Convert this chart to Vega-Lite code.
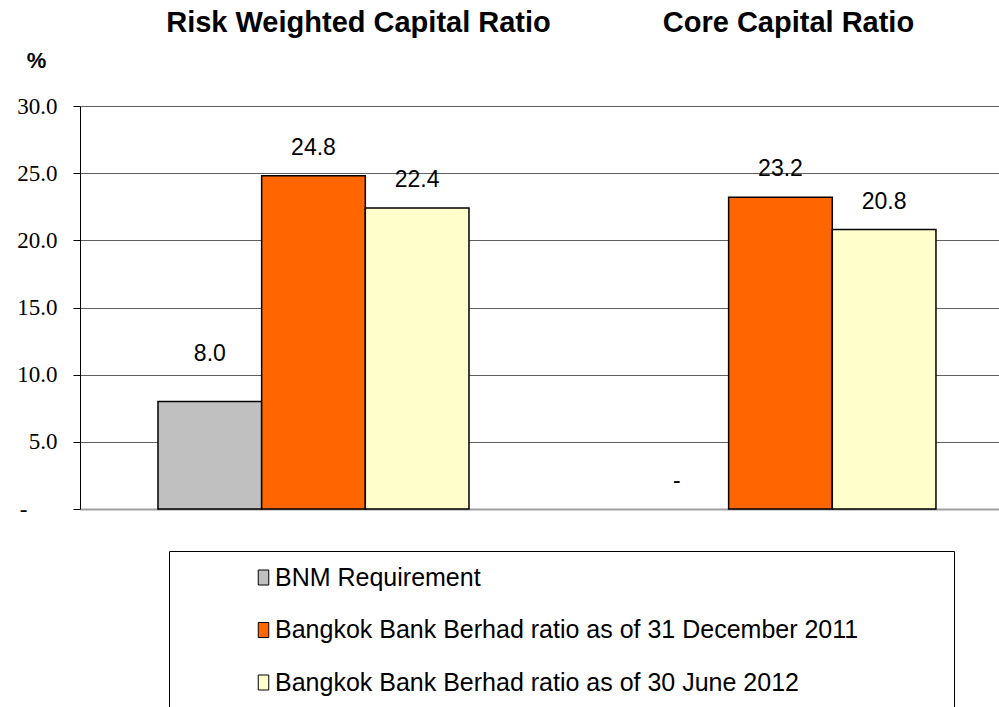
{
  "$schema": "https://vega.github.io/schema/vega-lite/v6.json",
  "width": 919,
  "height": 403,
  "autosize": {"type": "none"},
  "padding": {"left": 80, "top": 106, "right": 0, "bottom": 198},
  "background": "white",
  "config": {"view": {"stroke": null}, "font": "Liberation Sans"},
  "data": {
    "values": [
      {"category": "Risk Weighted Capital Ratio", "series": "BNM Requirement", "value": 8.0},
      {"category": "Risk Weighted Capital Ratio", "series": "Bangkok Bank Berhad ratio as of 31 December 2011", "value": 24.8},
      {"category": "Risk Weighted Capital Ratio", "series": "Bangkok Bank Berhad ratio as of 30 June 2012", "value": 22.4},
      {"category": "Core Capital Ratio", "series": "BNM Requirement", "value": 0},
      {"category": "Core Capital Ratio", "series": "Bangkok Bank Berhad ratio as of 31 December 2011", "value": 23.2},
      {"category": "Core Capital Ratio", "series": "Bangkok Bank Berhad ratio as of 30 June 2012", "value": 20.8}
    ]
  },
  "encoding": {
    "x": {
      "field": "category",
      "type": "nominal",
      "sort": ["Risk Weighted Capital Ratio", "Core Capital Ratio"],
      "scale": {"paddingInner": 0.334, "paddingOuter": 0.151, "align": 0.553},
      "axis": {
        "orient": "top",
        "title": null,
        "domain": false,
        "ticks": false,
        "tickSize": 0,
        "grid": false,
        "labelAngle": 0,
        "labelFont": "Liberation Sans",
        "labelFontWeight": "bold",
        "labelFontSize": 29,
        "labelColor": "black",
        "labelPadding": 75,
        "labelBaseline": "alphabetic",
        "labelLimit": 1000,
        "labelOffset": {"condition": {"test": "datum.value == 'Risk Weighted Capital Ratio'", "value": 45}, "value": 8}
      }
    },
    "xOffset": {
      "field": "series",
      "type": "nominal",
      "sort": ["BNM Requirement", "Bangkok Bank Berhad ratio as of 31 December 2011", "Bangkok Bank Berhad ratio as of 30 June 2012"],
      "scale": {"paddingInner": 0, "paddingOuter": 0}
    },
    "y": {
      "field": "value",
      "type": "quantitative",
      "scale": {"domain": [0, 30], "nice": false},
      "axis": {
        "title": "%",
        "titleAngle": 0,
        "titleFont": "Liberation Sans",
        "titleFontWeight": "bold",
        "titleFontSize": 22,
        "titleColor": "black",
        "titleX": -44,
        "titleY": -46,
        "titleAlign": "center",
        "titleBaseline": "middle",
        "values": [0, 5, 10, 15, 20, 25, 30],
        "labelExpr": "datum.value == 0 ? '-' : format(datum.value, '.1f')",
        "labelFont": "Liberation Serif",
        "labelFontSize": 23,
        "labelColor": "black",
        "labelFlush": false,
        "labelOverlap": false,
        "labelPadding": {"condition": {"test": "datum.value == 0", "value": 46}, "value": 16},
        "tickSize": 7,
        "tickColor": "black",
        "domainColor": "black",
        "domainWidth": 1,
        "grid": true,
        "gridColor": {"condition": {"test": "datum.value == 0", "value": "#a0a0a0"}, "value": "#606060"},
        "gridWidth": {"condition": {"test": "datum.value == 0", "value": 2}, "value": 1}
      }
    }
  },
  "layer": [
    {
      "mark": {"type": "bar", "stroke": "black", "strokeWidth": 1.5},
      "encoding": {
        "color": {
          "field": "series",
          "type": "nominal",
          "scale": {
            "domain": ["BNM Requirement", "Bangkok Bank Berhad ratio as of 31 December 2011", "Bangkok Bank Berhad ratio as of 30 June 2012"],
            "range": ["#C0C0C0", "#FF6600", "#FFFFCC"]
          },
          "legend": {
            "orient": "none",
            "legendX": 89,
            "legendY": 445,
            "title": "\u00a0",
            "titleOrient": "right",
            "titleFontSize": 1,
            "titlePadding": 82,
            "padding": 14,
            "rowPadding": 26.5,
            "strokeColor": "black",
            "symbolType": "M-0.7,-1H0.7V1H-0.7Z",
            "symbolSize": 225,
            "symbolStrokeColor": "black",
            "symbolStrokeWidth": 1,
            "symbolOpacity": 1,
            "symbolOffset": 68,
            "labelOffset": -1,
            "labelFont": "Liberation Sans",
            "labelFontSize": 25,
            "labelColor": "black",
            "labelLimit": 1000
          }
        },
        "strokeOpacity": {"condition": {"test": "datum.value == 0", "value": 0}, "value": 1}
      }
    },
    {
      "transform": [{"filter": "datum.series == 'BNM Requirement' && datum.value > 0"}],
      "mark": {"type": "text", "dy": -48, "fontSize": 23, "font": "Liberation Sans", "color": "black", "baseline": "middle"},
      "encoding": {"text": {"field": "value", "type": "quantitative", "format": ".1f"}}
    },
    {
      "transform": [{"filter": "!(datum.series == 'BNM Requirement' && datum.value > 0)"}],
      "mark": {"type": "text", "dy": -28, "fontSize": 23, "font": "Liberation Sans", "color": "black", "baseline": "middle"},
      "encoding": {
        "text": {"condition": {"test": "datum.value == 0", "value": "-"}, "field": "value", "type": "quantitative", "format": ".1f"}
      }
    }
  ]
}
